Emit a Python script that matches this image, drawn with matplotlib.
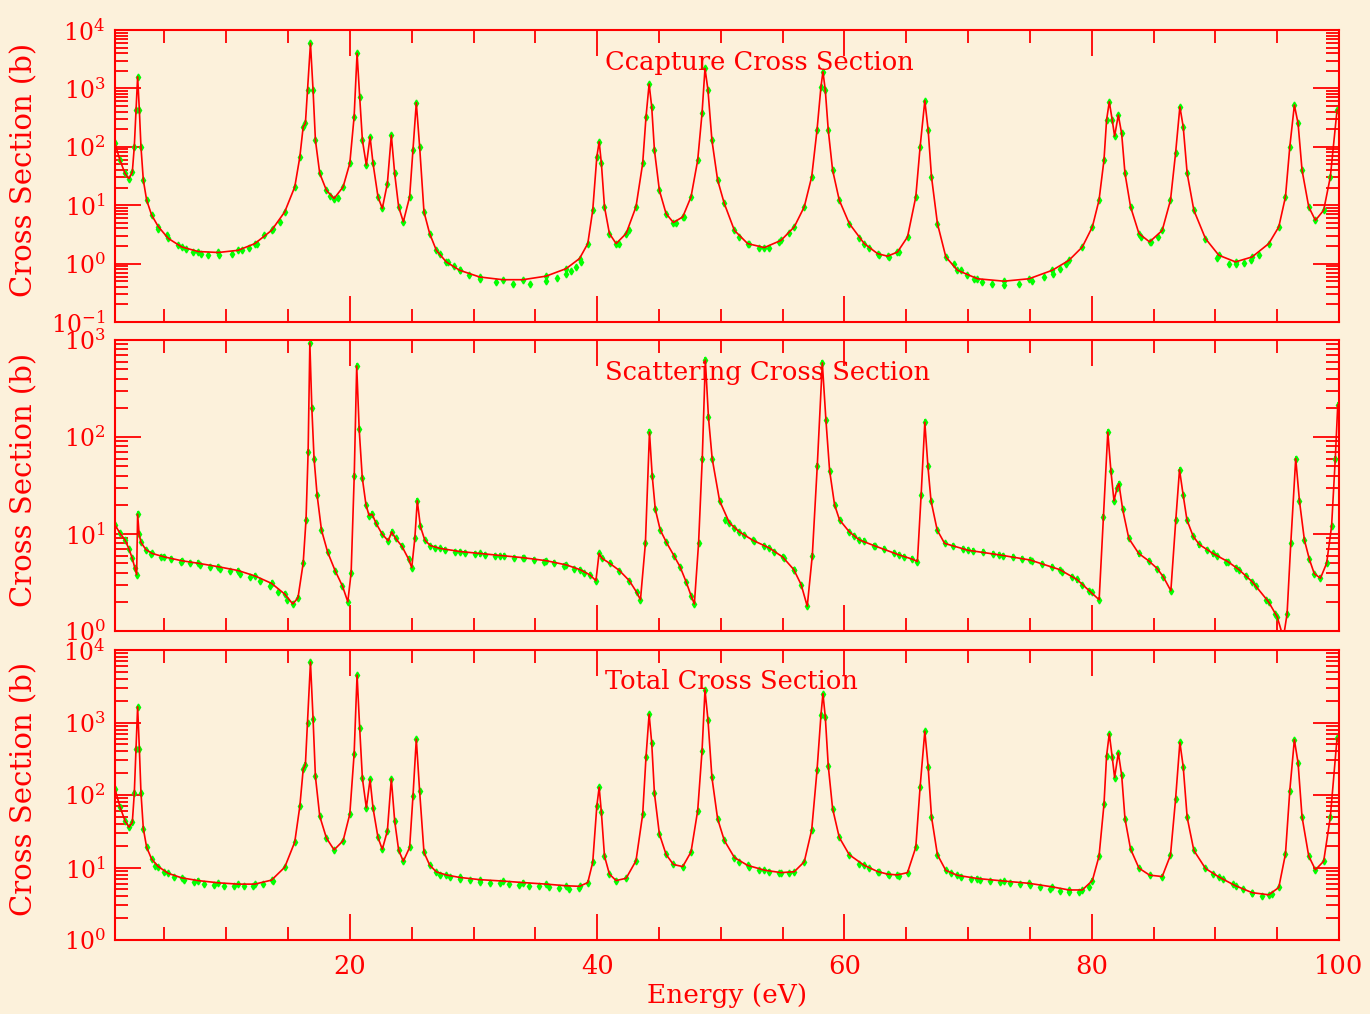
import matplotlib.pyplot as plt
from matplotlib.ticker import LogLocator, MultipleLocator, NullFormatter, LogFormatterMathtext

# Font and colours (IDL-like red axes on parchment)
plt.rcParams['font.family'] = 'DejaVu Serif'
plt.rcParams['mathtext.fontset'] = 'dejavuserif'

RED = '#ff0000'
GREEN = '#00ff00'
PAPER = '#fcf1db'

# ---- capture cross section (fit curve) ----
cap_e = [1.00, 1.40, 1.81, 2.13, 2.40, 2.56, 2.70, 2.83, 2.97, 3.10, 3.29, 3.56, 3.96,
         4.50, 5.31, 6.39, 7.73, 9.35, 10.96, 12.31, 13.66, 14.73, 15.54, 15.95, 16.22,
         16.40, 16.57, 16.81, 17.02, 17.21, 17.56, 18.10, 18.72, 19.45, 19.99, 20.34,
         20.58, 20.79, 21.01, 21.33, 21.63, 21.87, 22.27, 22.62, 23.03, 23.35, 23.62,
         23.94, 24.32, 24.83, 25.10, 25.37, 25.64, 25.99, 26.45, 26.99, 27.79, 28.87,
         30.49, 32.37, 33.99, 35.87, 37.49, 38.57, 39.24, 39.64, 39.97, 40.16, 40.34,
         40.59, 40.99, 41.53, 42.34, 43.14, 43.68, 43.95, 44.20, 44.41, 44.63, 45.03,
         45.57, 46.16, 46.92, 47.59, 48.13, 48.48, 48.72, 48.96, 49.28, 49.74, 50.28,
         51.10, 52.17, 53.52, 54.87, 55.94, 56.75, 57.35, 57.78, 58.10, 58.26, 58.45,
         58.69, 59.04, 59.58, 60.39, 61.60, 62.68, 63.49, 64.29, 65.10, 65.77, 66.12,
         66.50, 66.77, 67.04, 67.52, 68.20, 69.14, 70.76, 72.91, 74.93, 76.82, 78.16,
         79.24, 80.05, 80.59, 80.99, 81.20, 81.42, 81.66, 81.85, 82.15, 82.42, 82.69,
         83.14, 83.82, 84.68, 85.70, 86.37, 86.78, 87.13, 87.40, 87.72, 88.26, 89.20,
         90.28, 91.63, 92.97, 94.32, 95.13, 95.67, 96.02, 96.39, 96.69, 97.01, 97.55,
         98.09, 98.76, 99.30, 99.84]
cap_s = [114, 59, 35, 28.6, 37, 100, 424, 1585, 424, 100, 27, 12.2, 6.8,
         4.3, 2.7, 1.93, 1.61, 1.55, 1.69, 2.2, 3.7, 7.7, 20.6, 67, 220,
         251, 933, 5900, 933, 130, 35, 18, 13, 20.6, 52, 327,
         3980, 720, 130, 48.5, 148, 52, 13.9, 8.8, 23.5, 158, 35,
         9.4, 5.2, 13.9, 88, 568, 100, 7.7, 3.27, 1.69, 1.07, 0.77,
         0.59, 0.53, 0.53, 0.61, 0.82, 1.22, 2.2, 8.2, 67, 122, 52,
         9.4, 3.27, 2.2, 3.27, 9.4, 52, 327, 1186, 485, 88, 18,
         7.2, 5.05, 6.3, 13.9, 59, 373, 2200, 936, 130, 27, 10.7,
         3.7, 2.2, 1.88, 2.5, 4.25, 9.4, 30.6, 193, 1070, 1930, 936,
         193, 40, 12.2, 4.85, 2.2, 1.48, 1.34, 1.58, 2.86, 13.9, 100,
         615, 193, 30.6, 4.85, 1.3, 0.77, 0.55, 0.50, 0.55, 0.77, 1.14,
         1.93, 4.25, 12.2, 59, 286, 590, 286, 152, 349, 169, 35,
         9.4, 3.27, 2.35, 3.7, 12.2, 77, 485, 220, 35, 8.2, 2.68,
         1.39, 1.07, 1.3, 2.2, 4.25, 13.9, 100, 518, 251, 40, 9.4,
         5.5, 8.2, 30.6, 425]

# extra measured points of the capture data (smooth stretches, a little under the fit)
capv_e = [4.50, 5.17, 6.06, 6.71, 7.33, 7.95, 8.54, 9.43, 10.43, 11.29, 11.83, 12.45,
          13.06, 13.79, 14.33, 18.40, 19.00, 27.26, 27.93, 28.39, 28.93, 29.60, 30.49,
          31.78, 33.18, 34.53, 35.82, 36.74, 37.49, 37.92, 38.30, 38.70, 41.80, 42.60,
          46.40, 47.00, 51.50, 52.30, 53.10, 53.90, 54.70, 55.50, 61.20, 62.00, 62.80,
          63.60, 64.40, 68.87, 69.46, 69.95, 70.49, 71.11, 71.97, 72.91, 74.12, 75.20,
          76.14, 76.87, 77.41, 77.89, 84.00, 84.80, 85.40, 90.15, 91.09, 91.63, 92.30,
          92.92, 93.51]
capv_s = [3.88, 3.06, 2.12, 1.81, 1.58, 1.48, 1.39, 1.39, 1.48, 1.69, 1.88, 2.2,
          3.06, 3.98, 5.2, 14.5, 13.5, 1.45, 1.07, 0.90, 0.77, 0.65, 0.55,
          0.485, 0.44, 0.45, 0.50, 0.575, 0.66, 0.75, 0.88, 1.07, 2.2, 3.8,
          5.0, 6.3, 2.9, 2.15, 1.85, 1.85, 2.3, 3.3, 2.7, 1.85, 1.42,
          1.3, 1.55, 1.0, 0.77, 0.63, 0.55, 0.485, 0.44, 0.425, 0.44, 0.50,
          0.59, 0.67, 0.82, 0.975, 2.8, 2.3, 2.8, 1.25, 1.0, 0.975, 1.04,
          1.14, 1.39]

# ---- scattering cross section ----
sca_e = [1.00, 1.40, 1.81, 2.13, 2.40, 2.60, 2.75, 2.83, 2.95, 3.10, 3.50, 4.00, 5.00,
         6.40, 7.70, 9.35, 10.96, 12.31, 13.66, 14.73, 15.38, 15.80, 16.22, 16.45,
         16.62, 16.76, 16.92, 17.10, 17.35, 17.70, 18.20, 18.80, 19.40, 19.83, 20.10,
         20.35, 20.55, 20.75, 21.00, 21.30, 21.55, 21.80, 22.10, 22.60, 23.10, 23.38,
         23.70, 24.20, 24.75, 25.00, 25.25, 25.45, 25.70, 26.05, 26.50, 27.30, 28.90,
         30.50, 32.10, 34.00, 35.90, 37.50, 38.60, 39.40, 39.90, 40.15, 40.40, 41.00,
         41.80, 42.60, 43.20, 43.50, 43.90, 44.23, 44.45, 44.70, 45.10, 45.60, 46.20,
         46.70, 47.20, 47.60, 47.86, 48.20, 48.50, 48.75, 49.00, 49.30, 49.90, 50.70,
         51.50, 52.60, 53.90, 55.00, 55.90, 56.50, 56.99, 57.40, 57.80, 58.21, 58.50,
         58.80, 59.20, 59.60, 60.40, 61.20, 62.50, 64.40, 65.50, 65.90, 66.20, 66.50,
         66.75, 67.00, 67.50, 68.10, 70.00, 72.50, 75.00, 77.40, 78.80, 79.80, 80.60,
         80.95, 81.30, 81.55, 81.80, 82.05, 82.20, 82.50, 83.00, 83.80, 84.60, 85.30,
         85.80, 86.40, 86.80, 87.10, 87.40, 87.70, 88.20, 88.70, 89.80, 91.00, 91.90,
         93.00, 94.30, 95.00, 95.50, 95.80, 96.10, 96.50, 96.80, 97.20, 97.60, 98.00,
         98.50, 99.00, 99.40, 99.70, 99.90]
sca_s = [12.4, 10.2, 8.7, 7.0, 5.6, 4.5, 3.8, 16, 10, 8.2, 6.9, 6.3, 5.8,
         5.3, 5.0, 4.6, 4.2, 3.7, 3.1, 2.4, 1.9, 2.2, 5.0, 14,
         70, 930, 200, 60, 25, 11, 6.5, 4.2, 2.9, 2.0, 4.0,
         40, 540, 120, 38, 20, 15.5, 16, 13, 10, 8.5, 10.5,
         9, 7.5, 5.5, 4.5, 9, 22, 12, 8.7, 7.6, 7.1, 6.6,
         6.3, 6.0, 5.7, 5.3, 4.8, 4.3, 3.8, 3.3, 6.3, 5.6, 5.0,
         4.2, 3.3, 2.5, 2.1, 8, 112, 40, 18, 11, 8.2, 6,
         4.6, 3.2, 2.3, 1.9, 8, 60, 620, 160, 60, 22, 13,
         10.5, 8.6, 7.2, 5.8, 4.3, 3.0, 1.8, 6, 50, 580, 150,
         45, 20, 14, 10.5, 8.7, 7.5, 6.1, 5.5, 5.2, 25, 142,
         50, 22, 11, 8, 6.8, 6.1, 5.4, 4.3, 3.4, 2.6, 2.1,
         15, 112, 45, 22, 30, 33, 18, 9, 6.3, 5.3, 4.4,
         3.6, 2.6, 14, 46, 25, 14, 9.5, 7.8, 6.3, 5.2, 4.3,
         3.2, 2.0, 1.4, 0.85, 1.5, 8, 60, 22, 8.7, 5.5, 3.9,
         3.5, 5.0, 12, 60, 214]

# extra measured scattering points on the slow stretches
scav_e = [3.9, 4.7, 5.5, 6.3, 7.1, 7.9, 8.7, 9.5, 10.3, 11.1, 11.9, 12.7, 13.5, 14.2,
          14.9, 26.9, 27.7, 28.5, 29.3, 30.1, 30.9, 31.7, 32.5, 33.3, 34.1, 34.9, 35.7,
          36.5, 37.3, 38.1, 38.9, 50.3, 51.1, 51.9, 52.7, 53.5, 54.3, 55.1, 55.9, 60.8,
          61.6, 62.4, 63.2, 64.0, 64.8, 68.8, 69.6, 70.4, 71.2, 72.0, 72.8, 73.6, 74.4,
          75.2, 76.0, 76.8, 77.6, 78.4, 79.2, 80.0, 89.3, 90.1, 90.9, 91.7, 92.5, 93.3,
          94.1, 94.8]
scav_s = [6.2, 5.8, 5.5, 5.2, 5.0, 4.8, 4.6, 4.4, 4.2, 3.9, 3.6, 3.3, 2.9, 2.5,
          2.1, 7.2, 6.9, 6.6, 6.4, 6.2, 6.1, 6.0, 5.9, 5.7, 5.6, 5.4, 5.2,
          5.0, 4.7, 4.4, 4.0, 14, 11.5, 9.8, 8.5, 7.5, 6.6, 5.6, 4.3, 9.5,
          8.4, 7.6, 7.0, 6.4, 5.8, 7.6, 7.0, 6.7, 6.5, 6.2, 6.0, 5.8, 5.5,
          5.3, 4.9, 4.6, 4.1, 3.6, 3.0, 2.5, 6.9, 6.0, 5.2, 4.5, 3.7, 2.9,
          2.1, 1.5]

# ---- total cross section (same energy grid as the capture fit) ----
tot_e = cap_e
tot_s = [120, 69, 44, 36, 42, 105, 428, 1650, 434, 108, 34.5, 19, 13.1,
         10.3, 8.3, 7.2, 6.6, 6.15, 5.9, 5.9, 6.7, 10.1, 22.5, 70, 225,
         263, 990, 6800, 1130, 180, 51, 25.5, 17.5, 23.4, 54.5, 367,
         4510, 840, 170, 66.5, 164, 66, 26, 17.8, 32, 168, 44,
         17.4, 12.2, 18.9, 96, 590, 112, 16.2, 10.8, 8.7, 7.9, 7.3,
         6.8, 6.5, 6.2, 5.9, 5.6, 5.5, 6.2, 11.8, 70, 128, 57.5,
         14.4, 8.1, 6.6, 7.1, 12.4, 54, 337, 1300, 525, 106, 29,
         15.2, 11, 10.3, 16.4, 61, 403, 2800, 1090, 175, 47, 23.7,
         13.7, 10.7, 9.2, 8.5, 8.75, 12, 33, 218, 1270, 2500, 1190,
         253, 65, 26, 15, 10.7, 8.8, 8.1, 7.9, 8.5, 19, 130,
         757, 243, 50, 15, 9.1, 7.8, 7.05, 6.5, 6.05, 5.4, 4.9,
         4.9, 6.6, 14.3, 74, 346, 700, 331, 174, 381, 189, 47,
         18, 9.8, 7.85, 7.5, 14.8, 87, 531, 245, 49, 17.2, 9.7,
         7.4, 5.6, 4.5, 4.2, 5.3, 15.4, 115, 578, 276, 50, 14.4,
         9.3, 12.2, 50, 605]

# extra measured total points on the slow stretches
totv_e = [4.2, 5.0, 5.8, 6.6, 7.4, 8.2, 9.0, 9.8, 10.6, 11.4, 12.2, 13.0, 13.8, 27.3,
          28.1, 28.9, 29.7, 30.5, 31.3, 32.1, 32.9, 33.7, 34.5, 35.3, 36.1, 36.9, 37.7,
          38.5, 51.5, 52.3, 53.1, 53.9, 54.7, 55.5, 61.2, 62.0, 62.8, 63.6, 64.4, 68.6,
          69.4, 70.2, 71.0, 71.8, 72.6, 73.4, 74.2, 75.0, 75.8, 76.6, 77.4, 78.2, 79.0,
          79.8, 89.8, 90.6, 91.4, 92.2, 93.0, 93.8, 94.6]
totv_s = [10.5, 8.6, 7.5, 6.8, 6.3, 6.0, 5.8, 5.6, 5.5, 5.5, 5.6, 5.9, 6.5, 8.0,
          7.4, 7.0, 6.7, 6.4, 6.2, 6.1, 5.9, 5.8, 5.6, 5.5, 5.3, 5.2, 5.1,
          5.2, 11.8, 10.3, 9.3, 8.8, 8.4, 8.4, 11.3, 9.8, 8.6, 7.9, 7.7, 8.4,
          7.5, 7.0, 6.8, 6.5, 6.3, 6.1, 5.9, 5.7, 5.4, 5.1, 4.8, 4.6, 4.6,
          5.4, 8.2, 7.0, 5.9, 5.0, 4.4, 4.1, 4.3]

titles = ['Ccapture Cross Section', 'Scattering Cross Section', 'Total Cross Section']
ylims = [(0.1, 1e4), (1, 1e3), (1, 1e4)]
rel_err = 0.07

fig = plt.figure(figsize=(13.7, 10.14), dpi=100, facecolor=PAPER)
L, W = 115 / 1370, 1224 / 1370
tops = [30, 340, 650]
bots = [322, 631, 940]

curves = [(cap_e, cap_s), (sca_e, sca_s), (tot_e, tot_s)]
extras = [(capv_e, capv_s), (scav_e, scav_s), (totv_e, totv_s)]

axes = []
for i in range(3):
    ax = fig.add_axes([L, 1 - bots[i] / 1014, W, (bots[i] - tops[i]) / 1014])
    ax.set_facecolor('none')
    e, s = curves[i]
    ve, vs = extras[i]
    for xx, yy in [(e, s), (ve, vs)]:
        ax.errorbar(xx, yy, yerr=[v * rel_err for v in yy], fmt='d', color=GREEN,
                    ms=3.5, elinewidth=1.2, capsize=0, zorder=2)
    ax.plot(e, s, color=RED, lw=1.2, zorder=3)

    ax.set_yscale('log')
    ax.set_xlim(1, 100)
    ax.set_ylim(*ylims[i])
    ax.xaxis.set_major_locator(MultipleLocator(20))
    ax.xaxis.set_minor_locator(MultipleLocator(5))
    ax.yaxis.set_major_locator(LogLocator(base=10))
    ax.yaxis.set_minor_locator(LogLocator(base=10, subs=range(2, 10)))
    ax.yaxis.set_major_formatter(LogFormatterMathtext())
    ax.yaxis.set_minor_formatter(NullFormatter())
    ax.tick_params(which='both', direction='in', top=True, right=True, colors=RED,
                   width=1.3)
    ax.tick_params(which='major', length=19, labelsize=17, pad=7)
    ax.tick_params(which='minor', length=9.5)
    ax.tick_params(axis='x', which='major', labelsize=18.5, pad=10)
    for sp in ax.spines.values():
        sp.set_color(RED)
        sp.set_linewidth(1.5)
    if i < 2:
        ax.set_xticklabels([])
    ax.set_ylabel('Cross Section (b)', color=RED, fontsize=21)
    ax.yaxis.set_label_coords(-0.063, 0.52)
    ax.text(0.4003, 0.89, titles[i], transform=ax.transAxes, color=RED,
            fontsize=18.5, va='center', ha='left')
    axes.append(ax)

axes[2].set_xlabel('Energy (eV)', color=RED, fontsize=19)
axes[2].xaxis.set_label_coords(0.5, -0.15)

fig.savefig('out.png', dpi=100, facecolor=PAPER)
